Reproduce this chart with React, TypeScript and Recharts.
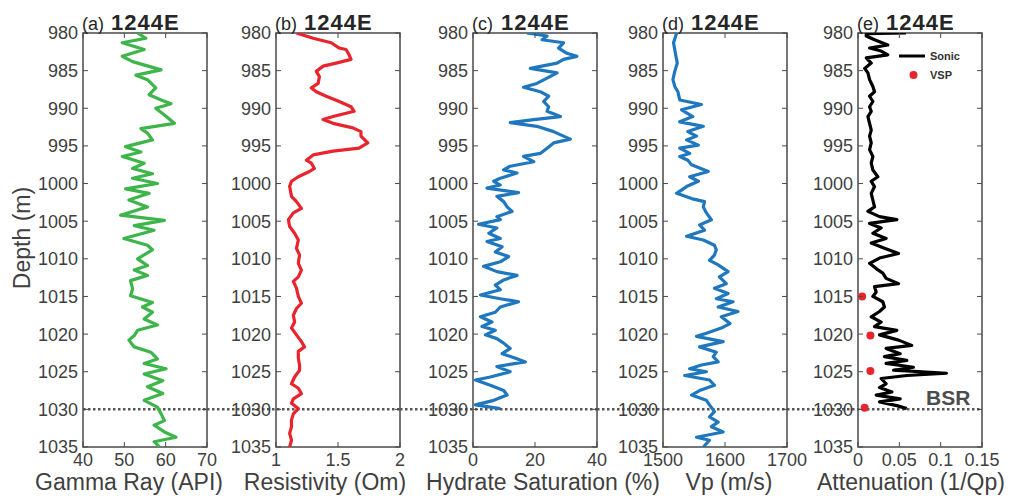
import { ScatterChart, Scatter, XAxis, YAxis, ReferenceArea, ReferenceLine, Legend } from "recharts";

// depth axis shared by all panels (m)
const depthTicks = [980, 985, 990, 995, 1000, 1005, 1010, 1015, 1020, 1025, 1030, 1035];
const bsrDepth = 1030;

// (a) gamma ray, API
const grDepth = [
  980, 980.7, 981.3, 982.2, 983.1, 983.8, 984.9, 985.6, 986.2, 987.3,
  988.2, 988.9, 989.4, 990, 990.9, 992, 992.7, 993.3, 994.2, 995.1,
  995.8, 996.4, 997.3, 998, 998.7, 999.3, 1000, 1000.7, 1001.3, 1002.2,
  1003.1, 1004.2, 1004.9, 1005.6, 1006.2, 1007.3, 1008.2, 1008.8, 1010, 1010.9,
  1011.5, 1012.2, 1012.9, 1014, 1014.9, 1015.8, 1016.4, 1017.1, 1018, 1018.8,
  1019.5, 1020.2, 1020.8, 1021.7, 1022.4, 1023.3, 1023.9, 1024.6, 1025.3, 1026.2,
  1027, 1027.9, 1028.8, 1029.7, 1030.6, 1031.5, 1032.1, 1033, 1033.7, 1034.3,
  1035,
];
const grValue = [
  53.2, 55.2, 49.5, 54.8, 49.5, 52, 58.9, 52.8, 55.6, 57.6,
  56, 58.9, 61.3, 57.6, 59.7, 62.1, 54, 55.6, 56.8, 50.3,
  54, 49.5, 54.8, 52, 56.8, 52, 58, 50.3, 56, 51.1,
  55.6, 49.1, 59.7, 52.4, 57.2, 49.9, 55.6, 56.8, 53.2, 55.6,
  52.4, 55.6, 51.5, 52, 51.5, 56.8, 54.4, 56.8, 54.8, 58,
  53.2, 52.4, 51.1, 52.4, 56.4, 58, 54.8, 60.1, 54.8, 59.3,
  55.6, 59.3, 54.8, 58, 58.9, 59.7, 57.2, 59.7, 62.5, 57.2,
  58.5,
];

// (b) resistivity, Ohm-m
const resDepth = [
  980, 980.7, 981.3, 982, 982.2, 982.9, 983.5, 984, 984.4, 985.1,
  985.8, 986.7, 987.3, 987.8, 988.4, 989.1, 989.8, 990.4, 991.1, 991.5,
  992, 992.6, 993.1, 993.7, 994.6, 995.3, 995.7, 996.2, 996.9, 997.3,
  998, 998.4, 999.1, 999.7, 1000.4, 1001.7, 1002.4, 1003.3, 1003.9, 1004.8,
  1005.7, 1006.6, 1007.5, 1008.6, 1009.5, 1010.6, 1011.5, 1012.4, 1013, 1013.9,
  1015, 1015.9, 1016.6, 1017.5, 1018.4, 1019.2, 1020.1, 1021, 1021.7, 1022.3,
  1023.2, 1024.1, 1024.8, 1025.7, 1026.6, 1027.2, 1027.9, 1028.6, 1029.2, 1029.9,
  1030.6, 1031.4, 1032.3, 1033.2, 1034.1, 1035,
];
const resValue = [
  1.165, 1.3, 1.445, 1.51, 1.565, 1.59, 1.605, 1.485, 1.38, 1.325,
  1.35, 1.34, 1.285, 1.325, 1.405, 1.51, 1.605, 1.63, 1.46, 1.38,
  1.46, 1.62, 1.685, 1.685, 1.74, 1.67, 1.46, 1.3, 1.245, 1.285,
  1.31, 1.27, 1.18, 1.125, 1.11, 1.125, 1.165, 1.205, 1.14, 1.1,
  1.11, 1.15, 1.18, 1.165, 1.19, 1.18, 1.205, 1.18, 1.14, 1.165,
  1.18, 1.205, 1.165, 1.14, 1.15, 1.125, 1.165, 1.205, 1.23, 1.18,
  1.18, 1.19, 1.19, 1.15, 1.125, 1.18, 1.205, 1.14, 1.125, 1.18,
  1.14, 1.125, 1.125, 1.11, 1.125, 1.11,
];

// (c) hydrate saturation, %
const shDepth = [
  980, 980.4, 980.9, 981.3, 982, 982.7, 983.1, 983.5, 984, 984.7,
  985.3, 986, 986.7, 987.2, 987.8, 988.4, 989.1, 989.8, 990.4, 991.1,
  991.5, 991.9, 992.4, 993.1, 993.7, 994.1, 994.6, 995.3, 996, 996.4,
  997.1, 997.7, 998.2, 998.6, 999.3, 999.7, 1000.2, 1000.6, 1001.2, 1001.7,
  1002.4, 1003.1, 1003.7, 1004.4, 1004.8, 1005.4, 1005.9, 1006.6, 1007.3, 1007.7,
  1008.4, 1009.1, 1009.7, 1010.4, 1011, 1011.7, 1012.2, 1012.8, 1013.5, 1014.1,
  1014.8, 1015.3, 1015.7, 1016.4, 1017.1, 1017.7, 1018.4, 1019, 1019.5, 1020.1,
  1020.6, 1021.2, 1021.9, 1022.6, 1023.2, 1023.7, 1024.3, 1025, 1025.7, 1026.1,
  1026.8, 1027.5, 1028.1, 1028.8, 1029.4, 1029.9,
];
const shValue = [
  17.4, 23.9, 22.3, 29.2, 27.6, 30.3, 33.5, 29.2, 27.1, 18.5,
  27.1, 23.9, 20.6, 16.3, 21.7, 24.4, 22.8, 24.4, 23.9, 28.2,
  19.6, 12, 20.6, 26, 29.2, 31.4, 26, 23.9, 21.7, 16.3,
  19.6, 12, 9.9, 14.2, 8.8, 6.7, 8.8, 4.5, 14.7, 7.7,
  9.9, 11, 12.6, 7.7, 8.8, 1.8, 7.7, 5.1, 8.8, 4.5,
  9.4, 7.2, 11.5, 8.8, 3.4, 7.7, 14.2, 9.9, 7.2, 8.8,
  2.4, 8.8, 14.7, 8.8, 7.2, 2.4, 6.1, 2.9, 7.2, 4,
  7.7, 9.9, 12, 9.4, 13.7, 16.9, 7.7, 12, 5.6, 0.8,
  5.6, 9.9, 11, 6.7, 0.8, 8.8,
];

// (d) P-wave velocity, m/s
const vpDepth = [
  980, 981.3, 982.7, 984, 985.1, 986.2, 987.1, 987.8, 988.9, 989.5,
  990.2, 991.1, 991.8, 992.4, 993.1, 993.7, 994.2, 994.9, 995.3, 996,
  996.4, 996.9, 997.5, 998.4, 999.1, 999.7, 1000.4, 1001.3, 1002, 1002.4,
  1003.1, 1003.9, 1004.8, 1005.5, 1006.2, 1007, 1007.5, 1008.2, 1008.8, 1009.5,
  1010.2, 1010.8, 1011.7, 1012.4, 1013.3, 1013.9, 1014.6, 1015.3, 1015.7, 1016.4,
  1017, 1017.7, 1018.6, 1019.2, 1019.9, 1020.3, 1021, 1021.7, 1022.4, 1023,
  1023.7, 1024.1, 1024.6, 1025, 1025.5, 1026.1, 1026.8, 1027.5, 1028.1, 1028.8,
  1029.4, 1030.3, 1031, 1031.7, 1032.3, 1033, 1033.7, 1034.1, 1035,
];
const vpValue = [
  1522, 1517, 1520, 1523, 1519, 1516, 1519, 1524, 1527, 1562,
  1530, 1548, 1527, 1565, 1540, 1554, 1538, 1557, 1527, 1543,
  1527, 1540, 1546, 1573, 1543, 1557, 1538, 1522, 1546, 1567,
  1565, 1570, 1578, 1559, 1567, 1538, 1565, 1583, 1586, 1583,
  1575, 1589, 1605, 1591, 1602, 1583, 1605, 1586, 1613, 1589,
  1621, 1594, 1608, 1594, 1570, 1554, 1597, 1559, 1586, 1581,
  1589, 1562, 1543, 1570, 1535, 1575, 1583, 1559, 1546, 1570,
  1575, 1583, 1575, 1589, 1578, 1597, 1554, 1575, 1565,
];

// (e) attenuation 1/Qp, sonic log
const qDepth = [
  980, 980.1, 980.4, 980.9, 981.6, 982, 982.4, 982.9, 983.3, 984,
  984.7, 985.3, 986.2, 987.1, 987.8, 988.4, 989.1, 989.8, 990.4, 991.1,
  992, 992.9, 993.7, 994.6, 995.5, 996.4, 997.3, 998.2, 999.1, 999.7,
  1000.4, 1001.3, 1002.2, 1003.1, 1003.7, 1004.4, 1004.8, 1005.3, 1005.9, 1006.6,
  1007.3, 1007.9, 1008.6, 1009.3, 1009.9, 1010.6, 1011.3, 1011.9, 1012.6, 1013.3,
  1013.7, 1014.4, 1015, 1015.7, 1016.4, 1017, 1017.7, 1018.4, 1019, 1019.5,
  1020.1, 1020.8, 1021.5, 1021.9, 1022.6, 1023, 1023.5, 1023.9, 1024.4, 1024.8,
  1025.2, 1025.5, 1025.9, 1026.6, 1027.1, 1027.7, 1028.1, 1028.6, 1029, 1029.5,
  1029.9,
];
const qValue = [
  0.058, 0.01, 0.01, 0.02, 0.036, 0.014, 0.028, 0.036, 0.01, 0.016,
  0.008, 0.012, 0.014, 0.018, 0.02, 0.014, 0.018, 0.014, 0.016, 0.012,
  0.014, 0.016, 0.014, 0.016, 0.014, 0.018, 0.016, 0.018, 0.024, 0.016,
  0.02, 0.016, 0.018, 0.02, 0.012, 0.026, 0.047, 0.014, 0.028, 0.018,
  0.034, 0.016, 0.032, 0.049, 0.026, 0.014, 0.022, 0.03, 0.034, 0.049,
  0.02, 0.022, 0.018, 0.03, 0.032, 0.026, 0.016, 0.028, 0.02, 0.047,
  0.026, 0.049, 0.065, 0.034, 0.051, 0.032, 0.059, 0.034, 0.067, 0.043,
  0.107, 0.059, 0.028, 0.034, 0.026, 0.041, 0.022, 0.051, 0.026, 0.047,
  0.059,
];

// (e) VSP attenuation points
const vspDepth = [1015, 1020.2, 1024.9, 1029.8];
const vspValue = [0.005, 0.015, 0.015, 0.008];

const PLOT_TOP = 33;
const PLOT_H = 414;
const PLOT_W = 124;
const AXIS_W = 55;
const PAD_L = 20;
const PAD_R = 30;
const AXIS = "#4a4a4a";
const TEXT = "#404040";
const FONT = "'Liberation Sans', Arial, Helvetica, sans-serif";

const zip = (d: number[], v: number[]) => d.map((depth, i) => ({ d: depth, v: v[i] }));

const panels = [
  { tag: "(a)", left: 83, domain: [40, 70], ticks: [40, 50, 60, 70], label: "Gamma Ray (API)", labelX: 129, color: "#3db54a", data: zip(grDepth, grValue) },
  { tag: "(b)", left: 276, domain: [1, 2], ticks: [1, 1.5, 2], label: "Resistivity (Om)", labelX: 325, color: "#e8252d", data: zip(resDepth, resValue) },
  { tag: "(c)", left: 473, domain: [0, 40], ticks: [0, 20, 40], label: "Hydrate Saturation (%)", labelX: 543, color: "#1f77bd", data: zip(shDepth, shValue) },
  { tag: "(d)", left: 663, domain: [1500, 1700], ticks: [1500, 1600, 1700], label: "Vp (m/s)", labelX: 729, color: "#1f77bd", data: zip(vpDepth, vpValue) },
  { tag: "(e)", left: 858, domain: [0, 0.15], ticks: [0, 0.05, 0.1, 0.15], label: "Attenuation (1/Qp)", labelX: 911, color: "#000000", data: zip(qDepth, qValue) },
];

function XTick(props: any) {
  const { x, y, payload } = props;
  const bottom = PLOT_TOP + PLOT_H;
  return (
    <g>
      <line x1={x} x2={x} y1={bottom} y2={bottom - 5} stroke={AXIS} />
      <line x1={x} x2={x} y1={PLOT_TOP} y2={PLOT_TOP + 5} stroke={AXIS} />
      <text x={x} y={y} dy="0.71em" textAnchor="middle" fontSize={18} fill={TEXT} fontFamily={FONT}>
        {String(payload.value)}
      </text>
    </g>
  );
}

function YTick(props: any) {
  const { x, y, payload } = props;
  const left = x + 5;
  const right = left + PLOT_W;
  return (
    <g>
      <line x1={left} x2={left + 5} y1={y} y2={y} stroke={AXIS} />
      <line x1={right} x2={right - 5} y1={y} y2={y} stroke={AXIS} />
      <text x={x} y={y} dy="0.36em" textAnchor="end" fontSize={18} fill={TEXT} fontFamily={FONT}>
        {String(payload.value)}
      </text>
    </g>
  );
}

function LogLegend() {
  return (
    <svg width={70} height={36} style={{ display: "block" }}>
      <line x1={3} x2={29} y1={8} y2={8} stroke="#000" strokeWidth={3} />
      <text x={34} y={8} dy="0.35em" fontSize={11} fontWeight="bold" fill="#333" fontFamily={FONT}>Sonic</text>
      <circle cx={17.5} cy={27} r={4} fill="#e8252d" />
      <text x={34} y={27} dy="0.35em" fontSize={11} fontWeight="bold" fill="#333" fontFamily={FONT}>VSP</text>
    </svg>
  );
}

function LogPanel({ p, prevRight, last }: { p: (typeof panels)[number]; prevRight: number | null; last: boolean }) {
  const [x0, x1] = p.domain;
  const from = prevRight == null ? x0 : x0 - ((p.left - prevRight) / PLOT_W) * (x1 - x0);
  return (
    <div style={{ position: "absolute", left: p.left - PAD_L - AXIS_W, top: 0 }}>
      <ScatterChart
        width={PAD_L + AXIS_W + PLOT_W + PAD_R}
        height={498}
        margin={{ top: PLOT_TOP, right: PAD_R, bottom: 0, left: PAD_L }}
      >
        <XAxis
          type="number"
          dataKey="v"
          domain={p.domain}
          ticks={p.ticks}
          interval={0}
          allowDataOverflow
          height={51}
          tickSize={0}
          tickMargin={6}
          axisLine={false}
          tickLine={false}
          tick={(t: any) => <XTick {...t} />}
        />
        <YAxis
          type="number"
          dataKey="d"
          domain={[980, 1035]}
          ticks={depthTicks}
          interval={0}
          reversed
          allowDataOverflow
          width={AXIS_W}
          tickSize={0}
          tickMargin={5}
          axisLine={false}
          tickLine={false}
          tick={(t: any) => <YTick {...t} />}
        />
        <ReferenceArea x1={x0} x2={x1} y1={980} y2={1035} fill="none" stroke={AXIS} strokeWidth={1.5} />
        <Scatter
          name={last ? "Sonic" : p.label}
          data={p.data}
          line={{ stroke: p.color, strokeWidth: 3.2, strokeLinejoin: "round" }}
          lineType="joint"
          shape={() => <g />}
          isAnimationActive={false}
        />
        {last && (
          <Scatter
            name="VSP"
            data={zip(vspDepth, vspValue)}
            shape={(s: any) => <circle cx={s.cx} cy={s.cy} r={4} fill="#e8252d" />}
            isAnimationActive={false}
          />
        )}
        <ReferenceLine
          segment={[{ x: from, y: bsrDepth }, { x: x1, y: bsrDepth }]}
          ifOverflow="visible"
          stroke="#555"
          strokeWidth={2.5}
          strokeDasharray="2.5 2.5"
        />
        {last && (
          <Legend
            layout="vertical"
            align="center"
            verticalAlign="middle"
            content={() => <LogLegend />}
            wrapperStyle={{ left: 113, top: 48, width: 70, height: 36 }}
          />
        )}
      </ScatterChart>
    </div>
  );
}

export default function App() {
  return (
    <div style={{ position: "absolute", left: 0, top: 0, width: 1009, height: 498, background: "#fff", fontFamily: FONT }}>
      {panels.map((p, i) => (
        <LogPanel
          key={p.tag}
          p={p}
          prevRight={i === 0 ? null : panels[i - 1].left + PLOT_W}
          last={i === panels.length - 1}
        />
      ))}
      <svg width={1009} height={498} style={{ position: "absolute", left: 0, top: 0, pointerEvents: "none" }}>
        {panels.map((p) => (
          <g key={p.tag} fontFamily={FONT}>
            <text x={p.left - 1} y={29.5} fontSize={18} fill="#262626">{p.tag}</text>
            <text x={p.left + 28} y={29.5} fontSize={22} fontWeight="bold" letterSpacing={1} fill="#262626">1244E</text>
            <text x={p.labelX} y={490} fontSize={23} textAnchor="middle" fill={TEXT}>{p.label}</text>
          </g>
        ))}
        <text x={30} y={238} fontSize={23} textAnchor="middle" fill={TEXT} fontFamily={FONT} transform="rotate(-90 30 238)">
          Depth (m)
        </text>
        <text x={926} y={405} fontSize={21} fontWeight="bold" fill="#4d4d4d" fontFamily={FONT}>BSR</text>
      </svg>
    </div>
  );
}
